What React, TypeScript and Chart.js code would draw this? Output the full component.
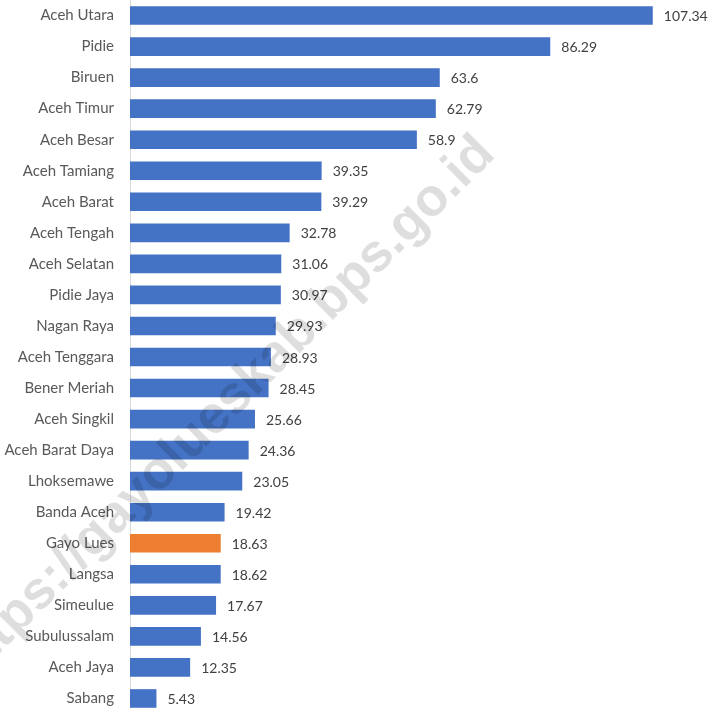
import { useEffect, useRef } from 'react';
import { Chart, registerables } from 'chart.js';

Chart.register(...registerables);

const categories = [
  'Aceh Utara', 'Pidie', 'Biruen', 'Aceh Timur', 'Aceh Besar', 'Aceh Tamiang',
  'Aceh Barat', 'Aceh Tengah', 'Aceh Selatan', 'Pidie Jaya', 'Nagan Raya',
  'Aceh Tenggara', 'Bener Meriah', 'Aceh Singkil', 'Aceh Barat Daya', 'Lhoksemawe',
  'Banda Aceh', 'Gayo Lues', 'Langsa', 'Simeulue', 'Subulussalam', 'Aceh Jaya', 'Sabang',
];
const values = [
  107.34, 86.29, 63.6, 62.79, 58.9, 39.35, 39.29, 32.78, 31.06, 30.97, 29.93,
  28.93, 28.45, 25.66, 24.36, 23.05, 19.42, 18.63, 18.62, 17.67, 14.56, 12.35, 5.43,
];
const highlight = 'Gayo Lues';
const watermarkText = 'https://gayolueskab.bps.go.id';

const BLUE = '#4472C4';
const ORANGE = '#ED7D31';
const FONT = 'Lato, "Liberation Sans", sans-serif';

const valueLabelPlugin = {
  id: 'valueLabels',
  afterDatasetsDraw(chart: any) {
    const { ctx } = chart;
    const meta = chart.getDatasetMeta(0);
    ctx.save();
    ctx.font = `14px ${FONT}`;
    ctx.fillStyle = '#404040';
    ctx.textAlign = 'left';
    ctx.textBaseline = 'middle';
    meta.data.forEach((bar: any, i: number) => {
      ctx.fillText(String(values[i]), bar.x + 11, bar.y + 1);
    });
    ctx.restore();
  },
};

const watermarkPlugin = {
  id: 'watermark',
  afterDraw(chart: any) {
    const { ctx } = chart;
    ctx.save();
    ctx.translate(222, 410);
    ctx.rotate(-Math.PI / 4);
    ctx.font = `bold 53px "Liberation Sans", Arial, sans-serif`;
    ctx.fillStyle = 'rgba(0,0,0,0.13)';
    ctx.textAlign = 'center';
    ctx.textBaseline = 'middle';
    ctx.fillText(watermarkText, 0, 0);
    ctx.restore();
  },
};

export default function App() {
  const ref = useRef<HTMLCanvasElement | null>(null);

  useEffect(() => {
    document.documentElement.style.overflow = 'hidden';
    document.body.style.margin = '0';
    document.body.style.overflow = 'hidden';
    const canvas = ref.current;
    if (!canvas) return;
    const chart = new Chart(canvas, {
      type: 'bar',
      data: {
        labels: categories,
        datasets: [
          {
            data: values,
            backgroundColor: categories.map((c) => (c === highlight ? ORANGE : BLUE)),
            borderWidth: 0,
            barPercentage: 0.6,
            categoryPercentage: 1,
          },
        ],
      },
      options: {
        indexAxis: 'y',
        responsive: false,
        animation: false,
        layout: { padding: 0 },
        plugins: {
          legend: { display: false },
          tooltip: { enabled: false },
        },
        scales: {
          x: {
            display: false,
            min: 0,
            max: 119.5,
          },
          y: {
            grid: { display: false, drawTicks: false },
            border: { display: true, color: '#D9D9D9', width: 1 },
            ticks: {
              color: '#595959',
              font: { family: FONT, size: 15 },
              padding: 16,
              autoSkip: false,
            },
            afterFit(scale: any) {
              scale.width = 130;
              scale.paddingTop = 0;
              scale.paddingBottom = 0;
            },
          },
        },
      },
      plugins: [valueLabelPlugin, watermarkPlugin],
    });
    return () => chart.destroy();
  }, []);

  return (
    <div style={{ position: 'absolute', left: 0, top: 0, width: 712, height: 714 }}>
      <canvas ref={ref} width={712} height={714} />
    </div>
  );
}
